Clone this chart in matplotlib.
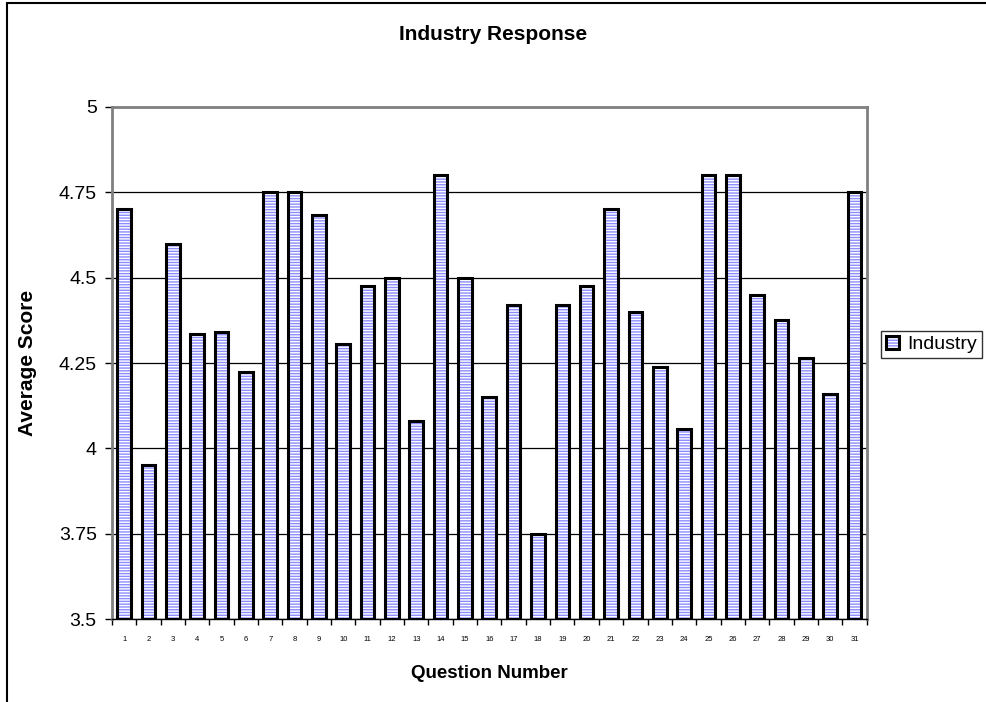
import matplotlib
matplotlib.use("Agg")
import matplotlib.pyplot as plt
from matplotlib.patches import Rectangle
from matplotlib.legend_handler import HandlerTuple
import numpy as np

plt.rcParams["font.family"] = ["Liberation Sans", "DejaVu Sans"]
plt.rcParams["hatch.linewidth"] = 1.0

# Average score per survey question
questions = list(range(1, 32))
scores = [4.70, 3.95, 4.60, 4.335, 4.34, 4.225, 4.75, 4.75, 4.685, 4.305,
          4.475, 4.50, 4.08, 4.80, 4.50, 4.15, 4.42, 3.75, 4.42, 4.475,
          4.70, 4.40, 4.237, 4.057, 4.80, 4.80, 4.45, 4.375, 4.265, 4.158,
          4.75]
y_ticks = [3.5, 3.75, 4, 4.25, 4.5, 4.75, 5]
y_labels = ["3.5", "3.75", "4", "4.25", "4.5", "4.75", "5"]

fig = plt.figure(figsize=(9.87, 7.02), dpi=100)
ax = fig.add_axes([0.1135, 0.1182, 0.7645, 0.7294])

x = np.arange(len(questions))
base = 3.5
heights = [s - base for s in scores]

# striped fill, then a separate black outline on top
fill = ax.bar(x, heights, bottom=base, width=0.56, color="white",
              edgecolor="#8c8cff", hatch="------", linewidth=0, zorder=3)
outline = ax.bar(x, heights, bottom=base, width=0.56, color="none",
                 edgecolor="black", linewidth=2.2, zorder=4)

ax.set_xlim(-0.5, len(questions) - 0.5)
ax.set_ylim(3.5, 5)
ax.set_yticks(y_ticks)
ax.set_yticklabels(y_labels, fontsize=14)
ax.set_xticks(x)
ax.set_xticklabels([str(q) for q in questions], fontsize=5.5)
ax.set_xticks(np.arange(-0.5, len(questions)), minor=True)
ax.tick_params(axis="x", which="major", length=0, pad=12)
ax.tick_params(axis="x", which="minor", length=4, width=1, direction="out")
ax.tick_params(axis="y", length=5, width=1, direction="out", pad=6)

ax.grid(axis="y", color="black", linewidth=0.9, zorder=1)
ax.set_axisbelow(True)
for side in ["top", "right", "left"]:
    ax.spines[side].set_color("#808080")
    ax.spines[side].set_linewidth(2)
ax.spines["bottom"].set_color("black")
ax.spines["bottom"].set_linewidth(1)

fig.text(0.5, 1 - 35 / 702, "Industry Response", ha="center", va="center",
         fontsize=15, fontweight="bold")
fig.text(489 / 987, 1 - 673 / 702, "Question Number", ha="center",
         va="center", fontsize=13.5, fontweight="bold")
fig.text(28 / 987, 1 - 363 / 702, "Average Score", ha="center", va="center",
         rotation=90, fontsize=15, fontweight="bold")

leg = fig.legend([(fill[0], outline[0])], ["Industry"],
                 handler_map={tuple: HandlerTuple(ndivide=1)},
                 loc="upper left", bbox_to_anchor=(881 / 987, 1 - 331 / 702),
                 fontsize=14, frameon=True, fancybox=False, handlelength=0.7,
                 handleheight=0.7, handletextpad=0.4, borderpad=0.25,
                 borderaxespad=0)
leg.get_frame().set_edgecolor("black")
leg.get_frame().set_linewidth(1)

# chart-area border
fig.patches.append(Rectangle((7 / 987, -0.1), 1.2, 1 - 3.3 / 702 + 0.1,
                             transform=fig.transFigure, fill=False,
                             edgecolor="black", linewidth=1.5))

fig.savefig("out.png", dpi=100)
